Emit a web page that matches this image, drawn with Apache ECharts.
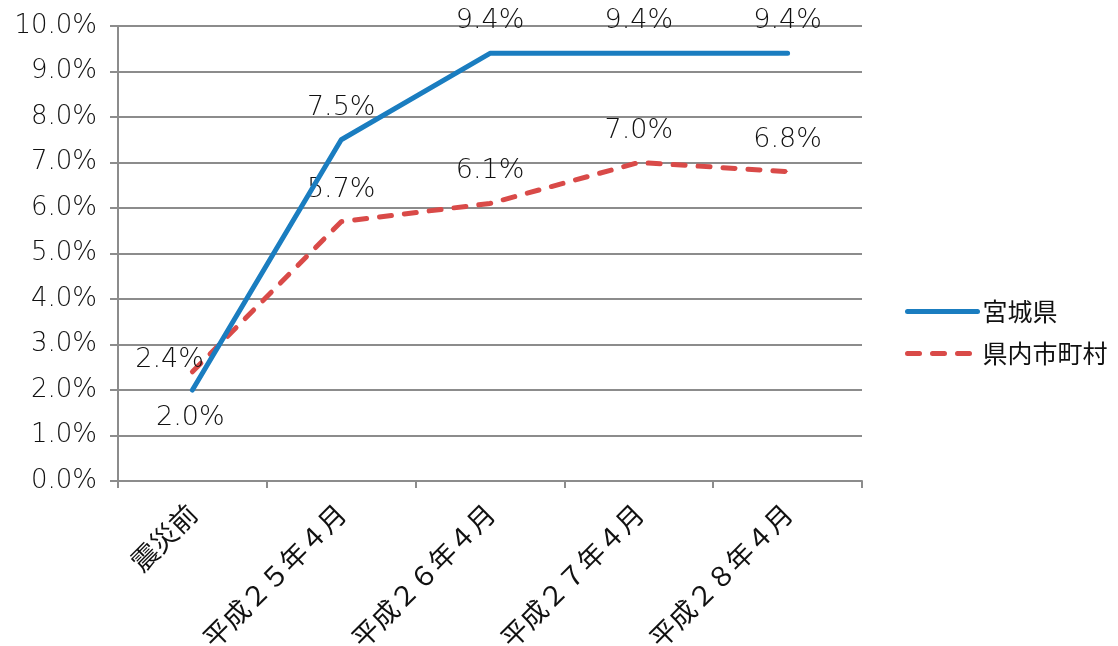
<!DOCTYPE html>
<html><head><meta charset="utf-8">
<script src="https://cdn.jsdelivr.net/npm/echarts@6/dist/echarts.min.js"></script>
<style>html,body{margin:0;padding:0;background:#fff}#c{width:1118px;height:646px}</style>
</head><body><div id="c"></div>
<script>
const categories = ['震災前', '平成２５年４月', '平成２６年４月', '平成２７年４月', '平成２８年４月'];
const miyagi = [2.0, 7.5, 9.4, 9.4, 9.4];
const shichoson = [2.4, 5.7, 6.1, 7.0, 6.8];
const seriesNames = ['宮城県', '県内市町村'];
const FONT = '"Noto Sans CJK JP", "Noto Sans", sans-serif';
const NUMFONT = '"DejaVu Sans", "Noto Sans CJK JP", sans-serif';
const chart = echarts.init(document.getElementById('c'));
const lblStyle = {show: true, fontFamily: NUMFONT, fontWeight: 300, fontSize: 27, color: '#111', formatter: p => p.value.toFixed(1) + '%'};
chart.setOption({
  animation: false,
  grid: {left: 118, top: 26, width: 744, height: 455, containLabel: false, outerBoundsMode: 'none'},
  legend: {
    orient: 'vertical', left: 900, top: 294, itemWidth: 70, itemHeight: 14, itemGap: 17,
    textStyle: {fontFamily: FONT, fontSize: 25, color: '#111'},
    itemStyle: {opacity: 0},
    lineStyle: {width: 5, cap: 'round'},
    data: seriesNames
  },
  xAxis: {
    type: 'category', data: categories, boundaryGap: true,
    axisLine: {lineStyle: {color: '#8c8c8c', width: 2}},
    axisTick: {show: true, length: 7, lineStyle: {color: '#8c8c8c', width: 2}},
    axisLabel: {rotate: 45, margin: 28, fontFamily: FONT, fontSize: 27, color: '#111'}
  },
  yAxis: {
    type: 'value', min: 0, max: 10, interval: 1,
    axisLine: {show: true, lineStyle: {color: '#8c8c8c', width: 2}},
    axisTick: {show: true, length: 8, lineStyle: {color: '#8c8c8c', width: 2}},
    splitLine: {lineStyle: {color: '#8c8c8c', width: 2}},
    axisLabel: {margin: 21, fontFamily: NUMFONT, fontWeight: 300, fontSize: 26, color: '#111', formatter: v => v.toFixed(1) + '%'}
  },
  series: [
    {
      name: seriesNames[0], type: 'line', symbol: 'circle', symbolSize: 1, showSymbol: true,
      lineStyle: {color: '#1a7dc0', width: 5, cap: 'round', join: 'round'},
      itemStyle: {color: '#1a7dc0'},
      data: miyagi.map((v, i) => i === 0 ? {value: v, label: {position: 'bottom', distance: 14, offset: [-2, 0]}} : v),
      label: Object.assign({position: 'top', distance: 18}, lblStyle),
      z: 3
    },
    {
      name: seriesNames[1], type: 'line', symbol: 'circle', symbolSize: 1, showSymbol: true,
      lineStyle: {color: '#d94a48', width: 5, type: [12, 13], cap: 'round', join: 'round'},
      itemStyle: {color: '#d94a48'},
      data: shichoson.map((v, i) => i === 0 ? {value: v, label: {position: 'left', distance: 0, offset: [12, -12]}} : v),
      label: Object.assign({position: 'top', distance: 18}, lblStyle),
      z: 2
    }
  ]
});
</script></body></html>
